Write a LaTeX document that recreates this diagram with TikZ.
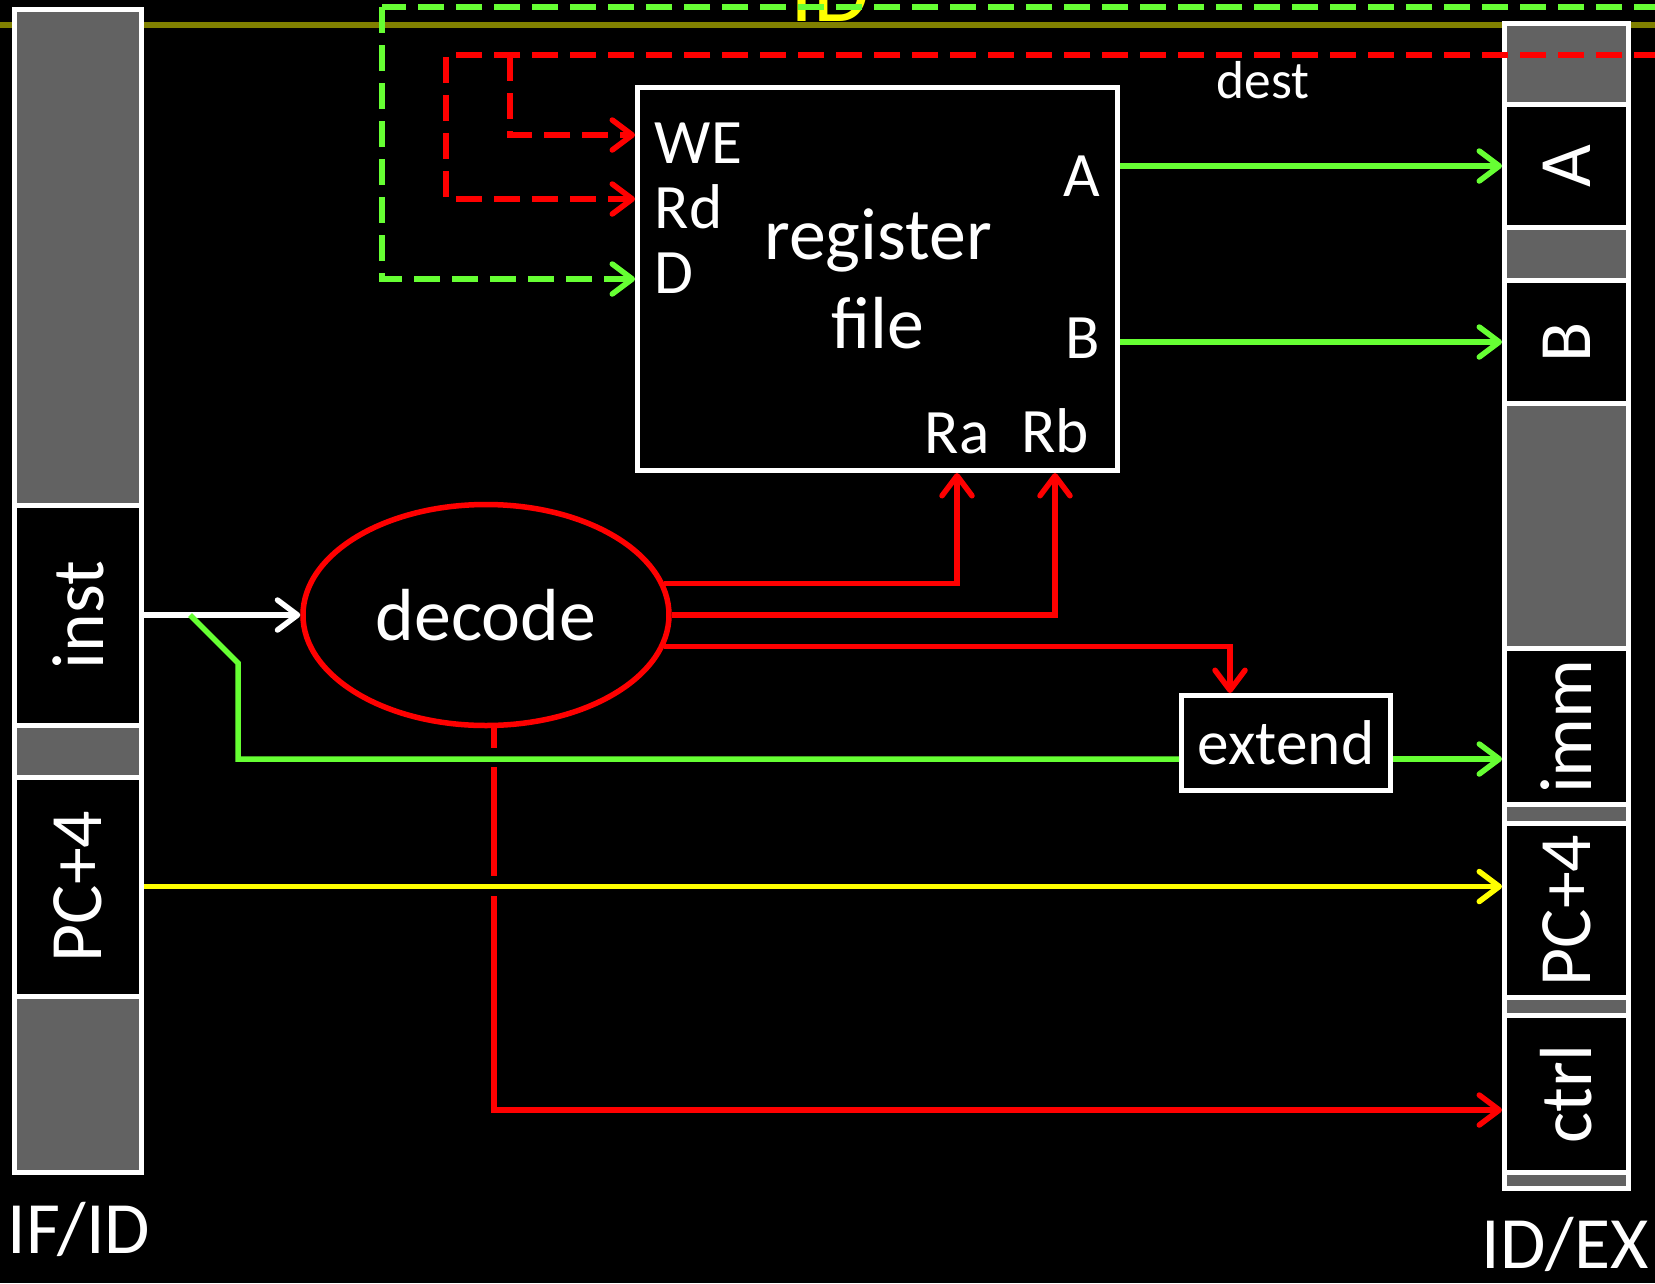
\documentclass[tikz,border=0pt]{standalone}
\usepackage{fontspec}
\setmainfont{Carlito}
\usetikzlibrary{arrows.meta,positioning,calc,shapes.geometric}
\definecolor{RegGray}{RGB}{98,98,98}
\definecolor{WireGreen}{HTML}{66FF33}
\definecolor{WireRed}{HTML}{FF0000}
\definecolor{WireYellow}{HTML}{FFFF00}
\definecolor{StageOlive}{HTML}{808000}
\newcommand{\bigtxt}{\fontsize{21}{25}\selectfont}
\newcommand{\midtxt}{\fontsize{18}{21}\selectfont}
\newcommand{\smltxt}{\fontsize{15.2}{18}\selectfont}

\begin{document}
\begin{tikzpicture}[x=.1mm,y=-.1mm,
  wire/.style={line width=.55mm},
  tip/.style={-{Straight Barb[length=2mm,width=3mm,round]}},
  wbdash/.style={dash pattern=on 2.6mm off 1.2mm},
  bar/.style={draw=white,fill=RegGray,line width=.5mm,inner sep=0pt},
  cell/.style={draw=white,fill=black,line width=.5mm,inner sep=0pt,text=white,font=\bigtxt},
  lbl/.style={text=white,inner sep=0pt,font=\midtxt}]
  \fill[black] (0,0) rectangle (1655,1283);
  \clip (0,0) rectangle (1655,1283);

  % stage boundary and title
  \node[text=WireYellow,font=\fontsize{26}{30}\selectfont,anchor=base,inner sep=0pt] (stage) at (830,21) {ID};
  \draw[StageOlive,line width=.6mm] (0,25) -- (1655,25);
  \coordinate (wbData) at (1660,7);
  \draw[wire,WireGreen,wbdash] (wbData) -- (382,7);

  % IF/ID register
  \node[bar,minimum width=12.7mm,minimum height=116.3mm] (ifid) at (78,591) {};
  \node[cell,minimum width=12.7mm,minimum height=22mm] (inst) at (78,615) {\rotatebox{90}{inst}};
  \node[cell,minimum width=12.7mm,minimum height=21.9mm] (pcl) at (78,886.5) {\rotatebox{90}{PC+4}};
  \node[text=white,font=\bigtxt,anchor=base,inner sep=0pt] (ifidlbl) at (79,1253) {IF/ID};

  % ID/EX register
  \node[bar,minimum width=12.4mm,minimum height=116.5mm] (idex) at (1566.5,606) {};
  \node[cell,minimum width=12.4mm,minimum height=12.3mm] (acell) at (1566.5,166) {\rotatebox{90}{A}};
  \node[cell,minimum width=12.4mm,minimum height=12.3mm] (bcell) at (1566.5,342) {\rotatebox{90}{B}};
  \node[cell,minimum width=12.4mm,minimum height=15.6mm] (imm) at (1566.5,726.5) {\rotatebox{90}{imm}};
  \node[cell,minimum width=12.4mm,minimum height=17.4mm] (pcr) at (1566.5,910.5) {\rotatebox{90}{PC+4}};
  \node[cell,minimum width=12.4mm,minimum height=15.7mm] (ctrl) at (1566.5,1094) {\rotatebox{90}{ctrl}};
  \node[text=white,font=\bigtxt,anchor=base,inner sep=0pt] (idexlbl) at (1565,1268) {ID/EX};

  % register file
  \node[draw=white,fill=black,line width=.5mm,minimum width=48mm,minimum height=38.3mm,inner sep=0pt] (rf) at (877.5,279) {};
  \node[lbl,anchor=base west] (we) at (654,163) {WE};
  \node[lbl,anchor=base west] (rd) at (654,228) {Rd};
  \node[lbl,anchor=base west] (dport) at (654,293) {D};
  \node[text=white,font=\bigtxt,anchor=base,inner sep=0pt] (regtxt) at (878,259) {register};
  \node[text=white,font=\bigtxt,anchor=base,inner sep=0pt] (filetxt) at (878,348) {file};
  \node[lbl,anchor=base east] (aport) at (1101,196) {A};
  \node[lbl,anchor=base east] (bport) at (1101,358) {B};
  \node[lbl,anchor=base] (ra) at (957,453) {Ra};
  \node[lbl,anchor=base] (rb) at (1055,452) {Rb};

  % decode and extend
  \node[ellipse,draw=WireRed,fill=black,line width=.55mm,minimum width=36.6mm,minimum height=22.1mm,inner sep=0pt,text=white,font=\bigtxt] (dec) at (486,615) {decode};
  \node[draw=white,fill=black,line width=.5mm,minimum width=20.9mm,minimum height=9.5mm,inner sep=0pt,text=white,font=\midtxt] (ext) at (1286,743) {extend};

  % write back (dashed)
  \coordinate (wbDest) at (1660,55);
  \coordinate (weTap) at (510,55);
  \draw[wire,WireGreen,wbdash,tip] (382,7) |- (rf.west);
  \draw[wire,WireRed,wbdash,tip] (wbDest) -- (446,55) |- (rf.west |- 0,199);
  \draw[wire,WireRed,wbdash,tip] (weTap) |- (rf.west |- 0,135);
  \node[text=white,font=\smltxt] (destlbl) at (1263,80) {dest};

  % data paths
  \draw[wire,white,tip] (inst.east) -- (dec.west);
  \coordinate (tap) at (190,615);
  \coordinate (extIn) at ([yshift=-1.6mm]ext.west);
  \coordinate (extOut) at ([yshift=-1.6mm]ext.east);
  \draw[wire,WireGreen] (tap) -- ++(48,48) |- (extIn);
  \draw[wire,WireGreen,tip] (extOut) -- (extOut -| imm.west);
  \draw[wire,WireGreen,tip] (acell.west -| rf.east) -- (acell.west);
  \draw[wire,WireGreen,tip] (bcell.west -| rf.east) -- (bcell.west);
  \draw[wire,WireYellow,tip] (pcl.east) -- (pcl.east -| pcr.west);

  % control from decode
  \draw[wire,WireRed,tip] (dec.10.5) -| (ra |- rf.south);
  \draw[wire,WireRed,tip] (dec.east) -| (rb |- rf.south);
  \draw[wire,WireRed,tip] (dec.-10) -| ([xshift=-5.6mm]ext.north);
  \coordinate (decOut) at ([xshift=.8mm]dec.south);
  \coordinate (ctrlIn) at ([yshift=-1.6mm]ctrl.west);
  \draw[wire,WireRed,tip,dash pattern=on 2mm off 1.9mm on 10.9mm off 2mm on 150mm] (decOut) |- (ctrlIn);
\end{tikzpicture}
\end{document}
